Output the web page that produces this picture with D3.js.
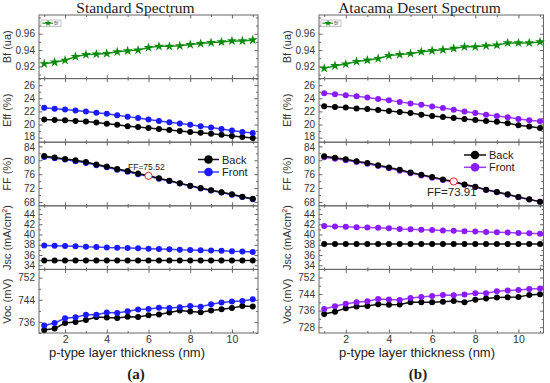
<!DOCTYPE html>
<html><head><meta charset="utf-8">
<script src="https://cdn.jsdelivr.net/npm/d3@7"></script>
<style>body{margin:0;background:#fff} svg{display:block}</style>
</head><body><svg id="c" width="550" height="383"></svg>
<script>
const thickness = [1,1.5,2,2.5,3,3.5,4,4.5,5,5.5,6,6.5,7,7.5,8,8.5,9,9.5,10,10.5,11];
const xTicks = [2,4,6,8,10];

// Standard spectrum (a)
const bfStd   = [0.9232,0.9251,0.9275,0.9319,0.9345,0.9350,0.9358,0.9378,0.9390,0.9400,0.9430,0.9446,0.9446,0.9453,0.9467,0.9479,0.9492,0.9500,0.9512,0.9512,0.9524];
const effStdBack  = [20.75,20.7,20.65,20.55,20.45,20.3,20.1,19.95,19.75,19.6,19.45,19.3,19.15,19.0,18.85,18.75,18.6,18.45,18.25,18.1,17.95];
const effStdFront = [22.55,22.4,22.3,22.15,22.0,21.8,21.65,21.4,21.2,21.0,20.75,20.55,20.35,20.15,19.95,19.75,19.55,19.3,19.1,18.85,18.7];
const ffStdBack   = [81.2,80.8,80.4,80.0,79.5,78.8,78.2,77.5,76.9,76.2,75.52,74.8,74.1,73.4,72.7,72.0,71.4,70.8,70.2,69.5,68.9];
const ffStdFront  = [80.95,80.55,80.2,79.75,79.25,78.6,78.0,77.3,76.7,76.0,75.4,74.7,74.0,73.3,72.6,71.9,71.3,70.7,70.1,69.4,68.8];
const jscStdBack  = [34.95,34.95,34.95,34.95,34.95,34.95,34.95,34.95,34.95,34.95,34.95,34.95,34.95,34.95,34.95,34.95,34.95,34.95,34.95,34.95,34.95];
const jscStdFront = [37.85,37.8,37.75,37.7,37.6,37.55,37.45,37.4,37.35,37.3,37.25,37.2,37.15,37.05,37.0,36.95,36.9,36.85,36.75,36.7,36.6];
const vocStdBack  = [733.1,733.6,735.6,736.0,736.7,737.8,737.6,737.4,737.9,737.8,738.4,738.7,739.4,740.1,739.8,739.5,740.1,740.6,741.0,741.8,741.6];
const vocStdFront = [734.7,735.6,737.3,737.7,738.6,738.6,739.4,739.2,739.9,740.5,740.7,741.1,741.0,741.3,741.8,741.5,742.4,743.0,743.4,743.6,744.2];
const ffStdMark = {x: 6, v: 75.52, label: "FF=75.52"};

// Atacama desert spectrum (b)
const bfAta   = [0.9176,0.9208,0.9228,0.9260,0.9276,0.9296,0.9332,0.9344,0.9356,0.9380,0.9392,0.9404,0.9420,0.9440,0.9440,0.9452,0.9460,0.9488,0.9488,0.9488,0.9500];
const effAtaBack  = [22.8,22.65,22.6,22.45,22.35,22.2,22.05,21.9,21.75,21.5,21.3,21.15,21.0,20.85,20.7,20.55,20.4,20.2,19.9,19.7,19.45];
const effAtaFront = [24.75,24.6,24.45,24.3,24.1,23.9,23.7,23.45,23.2,23.0,22.75,22.5,22.25,22.0,21.75,21.5,21.3,21.1,20.85,20.65,20.5];
const ffAtaBack   = [81.15,80.75,80.3,79.75,79.25,78.6,77.9,77.25,76.5,75.85,75.2,74.5,73.91,73.05,72.4,71.55,70.9,70.2,69.45,68.75,68.1];
const ffAtaFront  = [80.85,80.45,80.0,79.5,79.0,78.35,77.7,77.0,76.3,75.65,75.0,74.35,73.75,72.95,72.3,71.45,70.8,70.1,69.35,68.7,68.05];
const jscAtaBack  = [38.15,38.15,38.15,38.15,38.15,38.15,38.15,38.15,38.15,38.15,38.15,38.15,38.15,38.15,38.15,38.15,38.15,38.15,38.15,38.15,38.15];
const jscAtaFront = [41.65,41.55,41.5,41.4,41.35,41.3,41.2,41.1,41.05,40.95,40.9,40.8,40.75,40.65,40.6,40.5,40.45,40.4,40.3,40.25,40.15];
const vocAtaBack  = [734.4,735.5,737.2,738.0,738.2,739.1,738.8,739.0,740.0,740.1,740.1,740.3,740.6,740.0,741.3,741.8,742.3,742.4,742.6,743.6,743.9];
const vocAtaFront = [736.8,738.1,739.3,740.0,740.5,741.6,741.4,741.1,742.1,742.6,743.1,743.6,743.4,743.8,744.4,744.4,745.4,745.7,745.9,746.4,746.7];
const ffAtaMark = {x: 7, v: 73.91, label: "FF=73.91"};

const bfTicks  = [0.92,0.94,0.96];
const effTicks = [18,20,22,24,26];
const ffTicks  = [68,72,76,80,84];
const jscTicks = [34,36,38,40,42,44];
const vocTicksStd = [736,744,752];
const vocTicksAta = [728,736,744,752];

const svg = d3.select("#c");
const TOP = 15, BOT = 333, NP = 5, PH = (BOT - TOP) / NP;
const FONT = "Liberation Sans, Arial, sans-serif";
const SERIF = "Liberation Serif, Times New Roman, serif";
const FRAME = "#666";

const sides = [
  { x0: 39, x1: 258, xd: [0.75, 11.25], title: "Standard Spectrum", tcx: 135.5, cx: 136, lcx: 127, sub: "(a)",
    front: "#1a1aff", frontLine: "#3b3bff",
    bf: bfStd, effB: effStdBack, effF: effStdFront, ffB: ffStdBack, ffF: ffStdFront,
    jscB: jscStdBack, jscF: jscStdFront, vocB: vocStdBack, vocF: vocStdFront,
    vocD: [732, 755], vocT: vocTicksStd, mark: ffStdMark,
    ffLabel: {x: 128, y: 169.5, size: 8.5},
    legend: {x: 198, y: 159.5, dy: 12.5, len: 21, size: 11} },
  { x0: 319, x1: 543.5, xd: [0.76, 11.16], title: "Atacama Desert Spectrum", tcx: 419.5, cx: 418, lcx: 417, sub: "(b)",
    front: "#8c1aff", frontLine: "#9a3dff",
    bf: bfAta, effB: effAtaBack, effF: effAtaFront, ffB: ffAtaBack, ffF: ffAtaFront,
    jscB: jscAtaBack, jscF: jscAtaFront, vocB: vocAtaBack, vocF: vocAtaFront,
    vocD: [725.2, 755.9], vocT: vocTicksAta, mark: ffAtaMark,
    ffLabel: {x: 427, y: 195.5, size: 11.5},
    legend: {x: 464, y: 155, dy: 12.3, len: 22, size: 11} }
];

function minorBetween(ticks, step, domain) {
  const out = [];
  for (let v = ticks[0] - step * 4; v <= domain[1]; v += step) {
    const r = Math.round(v * 1e6) / 1e6;
    if (r >= domain[0] && r <= domain[1] && !ticks.some(t => Math.abs(t - r) < 1e-9)) out.push(r);
  }
  return out;
}

sides.forEach(s => {
  const x = d3.scaleLinear().domain(s.xd).range([s.x0, s.x1]);
  const panels = [
    { key: "bf",  label: "Bf (ua)",  d: [0.905, 0.983], t: bfTicks, fmt: d3.format(".2f"), minor: 0.01 },
    { key: "eff", label: "Eff (%)",  d: [17.3, 27.0],  t: effTicks, fmt: d3.format("d"), minor: 1 },
    { key: "ff",  label: "FF (%)",   d: [66.9, 85.2],  t: ffTicks, fmt: d3.format("d"), minor: 2 },
    { key: "jsc", label: "Jsc (mA/cm", d: [33.2, 45.6], t: jscTicks, fmt: d3.format("d"), minor: 1 },
    { key: "voc", label: "Voc (mV)", d: s.vocD, t: s.vocT, fmt: d3.format("d"), minor: 4 }
  ];
  panels.forEach((p, i) => {
    const yTop = TOP + i * PH, yBot = TOP + (i + 1) * PH;
    const y = d3.scaleLinear().domain(p.d).range([yBot, yTop]);
    const g = svg.append("g");

    g.append("rect").attr("x", s.x0).attr("y", yTop).attr("width", s.x1 - s.x0).attr("height", PH)
      .attr("fill", "none").attr("stroke", FRAME).attr("stroke-width", 1);

    const ax = g.append("g").attr("transform", `translate(${s.x0},0)`)
      .call(d3.axisLeft(y).tickValues(p.t).tickFormat(p.fmt).tickSizeInner(-3.5).tickSizeOuter(0).tickPadding(4));
    ax.select(".domain").remove();
    ax.selectAll("line").attr("stroke", FRAME);
    ax.selectAll("text").attr("font-family", FONT).attr("font-size", 10).attr("fill", "#333")
      .attr("y", d => (p.key === "eff" && d === 18) ? -1 : (p.key === "ff" && d === 84) ? 1 : 0);
    const mn = minorBetween(p.t, p.minor, p.d);
    const axm = g.append("g").attr("transform", `translate(${s.x0},0)`)
      .call(d3.axisLeft(y).tickValues(mn).tickFormat("").tickSizeInner(-2).tickSizeOuter(0));
    axm.select(".domain").remove(); axm.selectAll("line").attr("stroke", FRAME);
    [p.t, mn].forEach((tv, k) => {
      const r = g.append("g").attr("transform", `translate(${s.x1},0)`)
        .call(d3.axisRight(y).tickValues(tv).tickFormat("").tickSizeInner(k ? -2 : -3.5).tickSizeOuter(0));
      r.select(".domain").remove(); r.selectAll("line").attr("stroke", FRAME);
    });
    const xMinor = [1,3,5,7,9,11];
    [[xTicks, -3.5], [xMinor, -2]].forEach(([tv, sz]) => {
      const b = g.append("g").attr("transform", `translate(0,${yBot})`)
        .call(d3.axisBottom(x).tickValues(tv).tickFormat(i === NP - 1 && sz < -3 ? d3.format("d") : "").tickSizeInner(sz).tickSizeOuter(0).tickPadding(3));
      b.select(".domain").remove(); b.selectAll("line").attr("stroke", FRAME);
      b.selectAll("text").attr("font-family", FONT).attr("font-size", 10.5).attr("fill", "#333");
      const t = g.append("g").attr("transform", `translate(0,${yTop})`)
        .call(d3.axisTop(x).tickValues(tv).tickFormat("").tickSizeInner(sz).tickSizeOuter(0));
      t.select(".domain").remove(); t.selectAll("line").attr("stroke", FRAME);
    });

    const tx = g.append("text").attr("transform", `translate(${s.x0 - 28},${(yTop + yBot) / 2}) rotate(-90)`)
      .attr("text-anchor", "middle").attr("font-family", FONT).attr("font-size", 11).attr("fill", "#333");
    if (p.key === "jsc") {
      tx.text("Jsc (mA/cm");
      tx.append("tspan").attr("dy", -4).attr("font-size", 7).text("2");
      tx.append("tspan").attr("dy", 4).text(")");
    } else tx.text(p.label);

    const line = arr => d3.line().x((d, j) => x(thickness[j])).y(d => y(d))(arr);
    const series = [];
    if (p.key === "bf") series.push({ v: s.bf, c: "#0b8a0b", lc: "#179317", sym: "star" });
    else {
      const B = { eff: s.effB, ff: s.ffB, jsc: s.jscB, voc: s.vocB }[p.key];
      const F = { eff: s.effF, ff: s.ffF, jsc: s.jscF, voc: s.vocF }[p.key];
      if (p.key === "ff") { series.push({ v: F, c: s.front, lc: s.frontLine }); series.push({ v: B, c: "#000", lc: "#111" }); }
      else { series.push({ v: B, c: "#000", lc: "#111" }); series.push({ v: F, c: s.front, lc: s.frontLine }); }
    }
    series.forEach(se => {
      g.append("path").attr("d", line(se.v)).attr("fill", "none").attr("stroke", se.lc).attr("stroke-width", 1.5);
      if (se.sym === "star") {
        g.selectAll(null).data(se.v).enter().append("path")
          .attr("d", d3.symbol().type(d3.symbolStar).size(30))
          .attr("transform", (d, j) => `translate(${x(thickness[j])},${y(d)})`).attr("fill", se.c);
      } else {
        g.selectAll(null).data(se.v).enter().append("circle")
          .attr("cx", (d, j) => x(thickness[j])).attr("cy", d => y(d)).attr("r", 3).attr("fill", se.c);
      }
    });

    if (p.key === "bf") {
      g.append("rect").attr("x", s.x0 + 2).attr("y", yTop + 5).attr("width", 20).attr("height", 6.5)
        .attr("fill", "#fff").attr("stroke", "#999").attr("stroke-width", 0.6);
      g.append("line").attr("x1", s.x0 + 3.5).attr("x2", s.x0 + 14).attr("y1", yTop + 8.2).attr("y2", yTop + 8.2)
        .attr("stroke", "#179317").attr("stroke-width", 1.2);
      g.append("path").attr("d", d3.symbol().type(d3.symbolStar).size(14))
        .attr("transform", `translate(${s.x0 + 9},${yTop + 8.2})`).attr("fill", "#0b8a0b");
      g.append("text").attr("x", s.x0 + 15).attr("y", yTop + 9.8).attr("font-family", FONT).attr("font-size", 4.5).attr("fill", "#555").text("Bf");
    }
    if (p.key === "ff") {
      const L = s.legend;
      [["Back", "#000", "#111"], ["Front", s.front, s.frontLine]].forEach(([name, c, lc], k) => {
        const yy = L.y + k * L.dy;
        g.append("line").attr("x1", L.x).attr("x2", L.x + L.len).attr("y1", yy).attr("y2", yy).attr("stroke", lc).attr("stroke-width", 1.5);
        g.append("circle").attr("cx", L.x + L.len / 2).attr("cy", yy).attr("r", 4.3).attr("fill", c);
        g.append("text").attr("x", L.x + L.len + 3).attr("y", yy + 4).attr("font-family", FONT).attr("font-size", L.size).attr("fill", "#222").text(name);
      });
      g.append("circle").attr("cx", x(s.mark.x)).attr("cy", y(s.mark.v)).attr("r", 3.6)
        .attr("fill", "#fff").attr("stroke", "#f22").attr("stroke-width", 1);
      g.append("text").attr("x", s.ffLabel.x).attr("y", s.ffLabel.y).attr("font-family", FONT)
        .attr("font-size", s.ffLabel.size).attr("fill", "#222").text(s.mark.label);
    }
  });

  svg.append("text").attr("x", s.tcx).attr("y", 12.5).attr("text-anchor", "middle")
    .attr("font-family", SERIF).attr("font-size", 15.5).attr("fill", "#222").text(s.title);
  svg.append("text").attr("x", s.lcx).attr("y", 357).attr("text-anchor", "middle")
    .attr("font-family", FONT).attr("font-size", 13).attr("fill", "#222").text("p-type layer thickness (nm)");
  svg.append("text").attr("x", s.cx).attr("y", 378.5).attr("text-anchor", "middle")
    .attr("font-family", SERIF).attr("font-weight", "bold").attr("font-size", 15).attr("fill", "#222").text(s.sub);
});
</script></body></html>
